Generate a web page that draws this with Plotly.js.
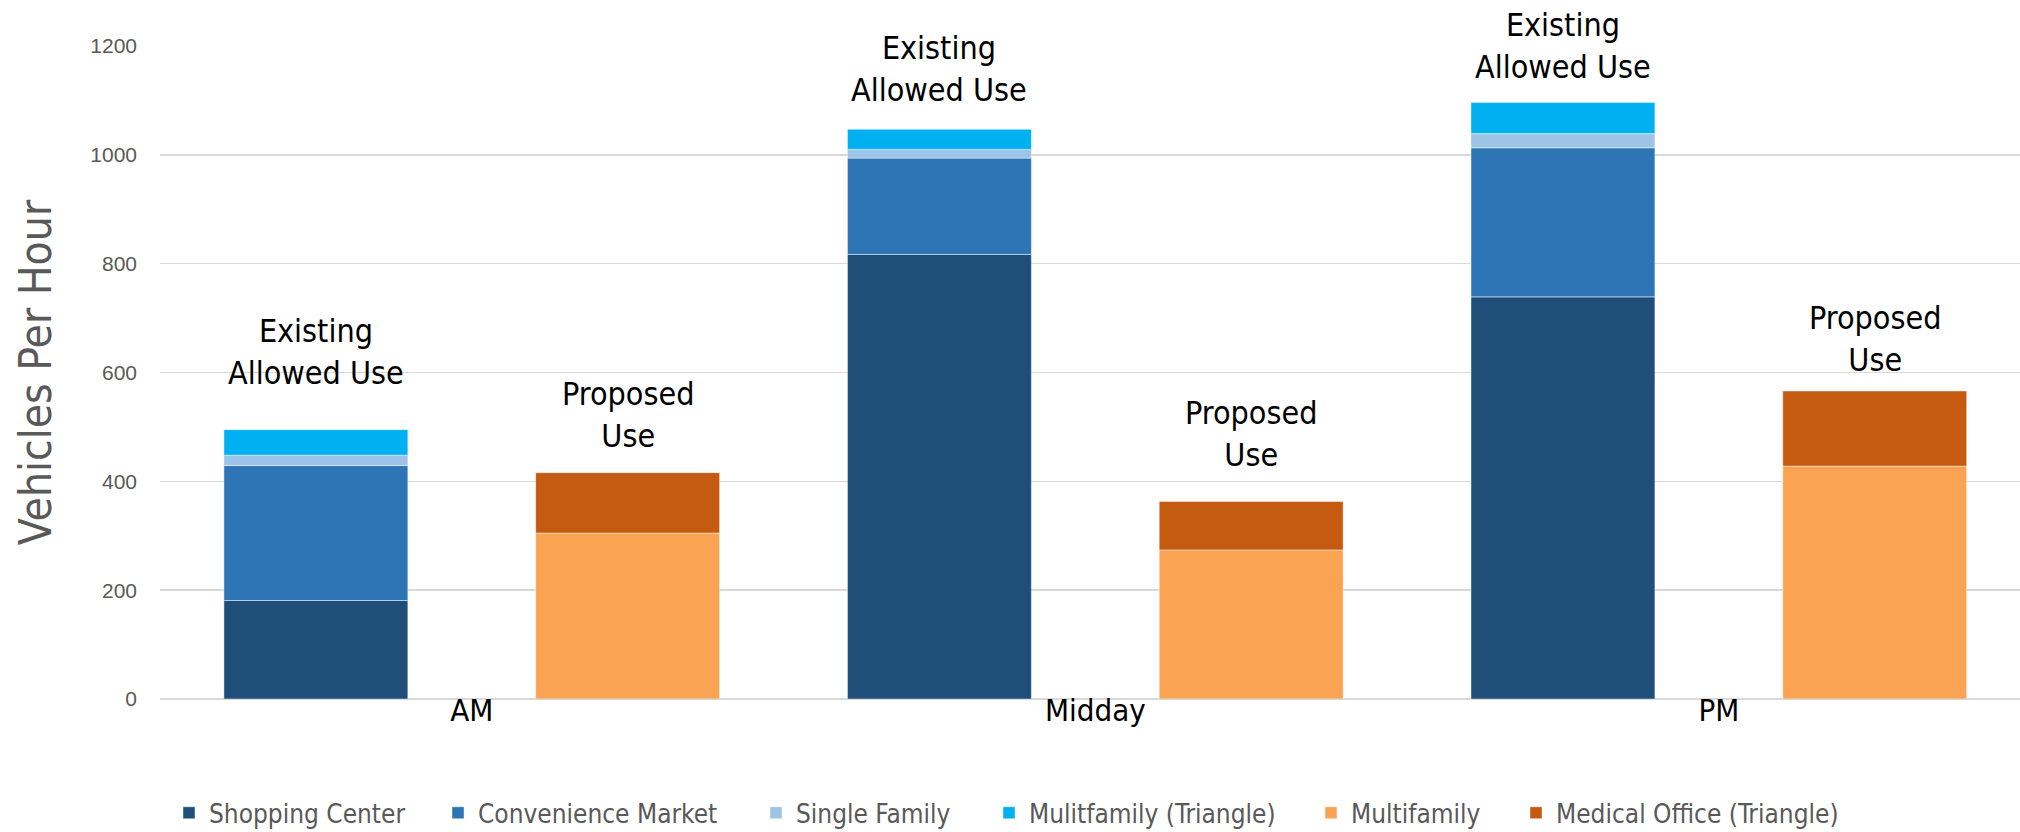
<!DOCTYPE html>
<html>
<head>
<meta charset="utf-8">
<script src="https://cdn.plot.ly/plotly-3.0.1.min.js"></script>
<style>
  html, body { margin: 0; padding: 0; background: #ffffff; }
  #chart { width: 2020px; height: 832px; }
</style>
</head>
<body>
<div id="chart"></div>
<script>
// ---- Data ----
const categories = ['AM', 'Midday', 'PM'];

// Existing Allowed Use (stacked)
const shoppingCenter      = [181, 817, 739];
const convenienceMarket   = [248, 177, 274];
const singleFamily        = [19, 16, 26];
const multifamilyTriangle = [47, 37, 57];

// Proposed Use (stacked)
const multifamily           = [305, 274, 428];
const medicalOfficeTriangle = [111, 89, 138];

// Label texts and their vertical positions (axis units)
const existingLabel = 'Existing<br>Allowed Use';
const proposedLabel = 'Proposed<br>Use';
const existingLabelY = [637, 1158, 1200];
const proposedLabelY = [521, 487, 661];

const yTicks = [0, 200, 400, 600, 800, 1000, 1200];

// ---- Styling ----
const narrow = '"Liberation Sans Narrow", "Arial Narrow", "DejaVu Sans Condensed", sans-serif';
const tickFont = '"Liberation Sans", Arial, sans-serif';
const edge = { color: 'rgba(255,255,255,0.45)', width: 1 };

// left edge (px) of each legend entry's colour square
const legendSquareX = [183, 452, 770, 1003, 1325, 1530];

function cumBase(stacks, idx) {
  return categories.map((_, i) => {
    let s = 0;
    for (let k = 0; k < idx; k++) s += stacks[k][i];
    return s;
  });
}

const existingStacks = [shoppingCenter, convenienceMarket, singleFamily, multifamilyTriangle];
const existingNames  = ['Shopping Center', 'Convenience Market', 'Single Family', 'Mulitfamily (Triangle)'];
const existingColors = ['#1F4E79', '#2E75B6', '#9DC3E6', '#00B0F0'];

const proposedStacks = [multifamily, medicalOfficeTriangle];
const proposedNames  = ['Multifamily', 'Medical Office (Triangle)'];
const proposedColors = ['#F9A353', '#C55A11'];

const legendIds = ['legend', 'legend2', 'legend3', 'legend4', 'legend5', 'legend6'];

const traces = [];
existingStacks.forEach((vals, k) => {
  traces.push({
    type: 'bar', x: categories, y: vals, base: cumBase(existingStacks, k),
    name: existingNames[k], offsetgroup: 'existing', legend: legendIds[traces.length],
    marker: { color: existingColors[k], line: edge },
    hoverinfo: 'skip'
  });
});
proposedStacks.forEach((vals, k) => {
  traces.push({
    type: 'bar', x: categories, y: vals, base: cumBase(proposedStacks, k),
    name: proposedNames[k], offsetgroup: 'proposed', legend: legendIds[traces.length],
    marker: { color: proposedColors[k], line: edge },
    hoverinfo: 'skip'
  });
});

const groupOffset = 0.25; // centre of each bar within its category (bargap 0, two groups)
const annotations = [];
categories.forEach((c, i) => {
  annotations.push({
    x: i - groupOffset, y: existingLabelY[i], xref: 'x', yref: 'y',
    text: existingLabel, showarrow: false, yanchor: 'middle', xanchor: 'center',
    font: { family: narrow, size: 32, color: '#000000' }
  });
  annotations.push({
    x: i + groupOffset, y: proposedLabelY[i], xref: 'x', yref: 'y',
    text: proposedLabel, showarrow: false, yanchor: 'middle', xanchor: 'center',
    font: { family: narrow, size: 32, color: '#000000' }
  });
});

const layout = {
  width: 2020, height: 832,
  margin: { l: 160, r: 0, t: 46, b: 133, pad: 0 },
  paper_bgcolor: '#ffffff', plot_bgcolor: '#ffffff',
  barmode: 'group', bargap: 0, bargroupgap: 0.41,
  showlegend: true,
  xaxis: {
    type: 'category', range: [-0.5, 2.483],
    showgrid: false, zeroline: false, showline: false, ticks: '',
    tickfont: { family: narrow, size: 31, color: '#000000' },
    ticklabelstandoff: -10, fixedrange: true
  },
  yaxis: {
    range: [0, 1200], tickvals: yTicks, ticktext: yTicks.map(String),
    showgrid: true, gridcolor: '#d9d9d9', gridwidth: 1.6,
    zeroline: true, zerolinecolor: '#d9d9d9', zerolinewidth: 2,
    showline: false, ticks: '',
    tickfont: { family: tickFont, size: 21, color: '#595959' },
    ticklabelstandoff: 22,
    title: { text: 'Vehicles Per Hour', font: { family: narrow, size: 44, color: '#595959' }, standoff: 24 },
    fixedrange: true
  },
  annotations: annotations
};

legendIds.forEach((id, k) => {
  layout[id] = {
    orientation: 'h', xref: 'container', yref: 'container',
    x: (legendSquareX[k] - 14) / 2020, xanchor: 'left', y: 0.023, yanchor: 'middle',
    font: { family: narrow, size: 26, color: '#595959' },
    bgcolor: 'rgba(0,0,0,0)', borderwidth: 0,
    itemclick: false, itemdoubleclick: false
  };
});

Plotly.newPlot('chart', traces, layout, { displayModeBar: false, staticPlot: true });
</script>
</body>
</html>
